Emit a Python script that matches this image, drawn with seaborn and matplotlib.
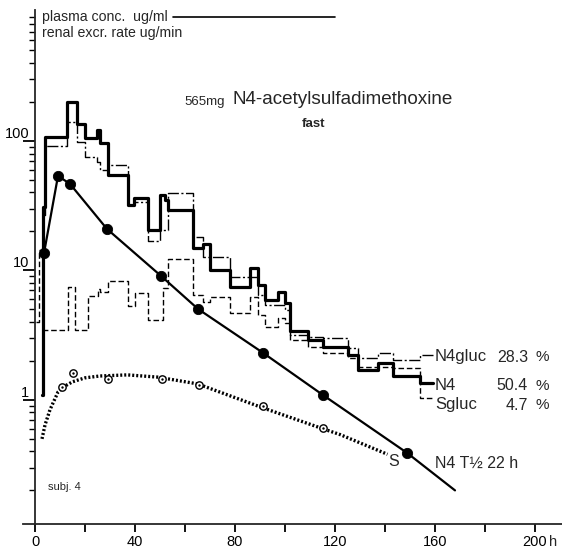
import matplotlib
matplotlib.use("Agg")
import matplotlib.pyplot as plt
import seaborn as sns
import pandas as pd
from matplotlib.lines import Line2D
from matplotlib.ticker import FixedLocator, NullFormatter

# ---------------- data ----------------
# plasma concentration of N4 (ug/ml), filled circles + fitted line
plasma_n4_t = [3.6, 9.2, 14.0, 28.8, 50.4, 65.2, 91.2, 115.2, 148.8]
plasma_n4_v = [13.6, 53.7, 46.6, 20.9, 9.07, 5.04, 2.31, 1.09, 0.39]
plasma_n4_ext_t = [148.8, 168.0]
plasma_n4_ext_v = [0.39, 0.20]

# plasma concentration of S-glucuronide: dotted curve + open circles
plasma_sg_curve_t = [2.8, 4, 6, 9.2, 12, 15, 20, 26, 37, 49, 65, 91, 115, 122, 141]
plasma_sg_curve_v = [0.50, 0.64, 0.84, 1.15, 1.28, 1.38, 1.48, 1.53, 1.56, 1.50, 1.33, 0.87, 0.60, 0.54, 0.38]
plasma_sg_pts_t = [10.8, 15.2, 29.2, 50.8, 65.6, 91.2, 115.2]
plasma_sg_pts_v = [1.26, 1.62, 1.45, 1.45, 1.31, 0.90, 0.61]

# renal excretion rates (ug/min), step series (value holds from t until next t)
n4_t = [2.8, 3.2, 4.0, 12.8, 16.8, 20.0, 24.8, 26.0, 29.0, 37.0, 39.5, 45.0, 50.0, 52.0, 53.0,
        63.0, 67.0, 70.0, 78.0, 86.0, 89.0, 92.0, 97.0, 100.0, 102.0, 109.0, 115.0, 125.0,
        129.0, 137.0, 143.0, 154.0, 159.0]
n4_v = [1.09, 30.9, 107, 200, 135, 105, 122, 96.5, 54.6, 32, 36.3, 20.5, 38.3, 35, 29.3,
        14.9, 16.0, 10.1, 7.46, 10.5, 7.73, 5.92, 6.82, 5.61, 3.41, 2.91, 2.57, 2.23,
        1.70, 1.93, 1.53, 1.35, 1.35]

n4gluc_t = [3.2, 4.0, 12.8, 16.8, 20.0, 24.8, 26.0, 29.0, 37.0, 39.5, 45.0, 50.0, 53.0,
            63.0, 67.0, 78.0, 89.0, 92.0, 100.0, 102.0, 109.0, 115.0, 125.0, 129.0, 137.0,
            143.0, 154.0, 159.0]
n4gluc_v = [26.8, 91.5, 140, 98.3, 75.2, 68.8, 59.7, 65.3, 32, 33.8, 16.9, 20.5, 39.7,
            18.1, 12.7, 8.91, 6.47, 5.42, 4.95, 3.18, 3.06, 3.01, 2.52, 2.11, 2.31,
            2.04, 2.23, 2.23]

sgluc_t = [0.5, 1.5, 3.2, 13.0, 16.0, 21.0, 25.0, 26.0, 29.0, 37.0, 40.0, 45.0, 51.0, 53.0,
           63.0, 67.0, 70.0, 78.0, 86.0, 89.0, 92.0, 97.0, 100.0, 102.0, 109.0, 115.0,
           125.0, 129.0, 137.0, 143.0, 154.0, 159.0]
sgluc_v = [4.0, 14.4, 3.47, 7.46, 3.47, 6.36, 7.2, 6.82, 8.3, 5.32, 6.7, 4.15, 7.33, 12.3,
           6.47, 5.71, 6.24, 4.70, 6.24, 4.53, 3.66, 4.30, 3.93, 2.91, 2.57, 2.31,
           2.11, 1.80, 1.80, 1.77, 1.04, 1.04]

x_ticks = [0, 20, 40, 60, 80, 100, 120, 140, 160, 180, 200]
x_ticklabels = ["0", "", "40", "", "80", "", "120", "", "160", "", "200"]
y_ticks = [1, 10, 100]
y_ticklabels = ["1", "10", "100"]

labels_right = ["N4gluc", "N4", "Sgluc"]
percents = ["28.3", "50.4", "4.7"]

# ---------------- style ----------------
sns.set_theme(style="ticks")
plt.rcParams["font.family"] = ["Liberation Sans", "DejaVu Sans"]
plt.rcParams["axes.linewidth"] = 1.3

W, H = 562, 553
fig = plt.figure(figsize=(W / 100, H / 100), dpi=100)
ax_left, ax_right, ax_top, ax_bot = 22.5, 562, 10, 524
ax = fig.add_axes([ax_left / W, 1 - ax_bot / H, (ax_right - ax_left) / W, (ax_bot - ax_top) / H])
ax.set_yscale("log")


def fx(px):
    return px / W


def fy(py):
    return 1 - py / H


# renal excretion step lines
df_n4 = pd.DataFrame({"t": n4_t, "v": n4_v})
df_ng = pd.DataFrame({"t": n4gluc_t, "v": n4gluc_v})
df_sg = pd.DataFrame({"t": sgluc_t, "v": sgluc_v})

sns.lineplot(data=df_sg, x="t", y="v", ax=ax, color="black", lw=1.0,
             drawstyle="steps-post", estimator=None, sort=False)
ax.lines[-1].set_dashes([4, 2])
sns.lineplot(data=df_ng, x="t", y="v", ax=ax, color="black", lw=1.0,
             drawstyle="steps-post", estimator=None, sort=False)
ax.lines[-1].set_dashes([8, 1.8, 1.5, 1.8])
sns.lineplot(data=df_n4, x="t", y="v", ax=ax, color="black", lw=2.3,
             drawstyle="steps-post", estimator=None, sort=False)

# plasma N4
df_p = pd.DataFrame({"t": plasma_n4_t, "v": plasma_n4_v})
sns.lineplot(data=df_p, x="t", y="v", ax=ax, color="black", lw=1.6, estimator=None, sort=False)
sns.lineplot(x=plasma_n4_ext_t, y=plasma_n4_ext_v, ax=ax, color="black", lw=1.6,
             estimator=None, sort=False)
sns.scatterplot(data=df_p, x="t", y="v", ax=ax, color="black", s=55, edgecolor="black", zorder=5)

# plasma S-gluc
df_sc = pd.DataFrame({"t": plasma_sg_curve_t, "v": plasma_sg_curve_v})
sns.lineplot(data=df_sc, x="t", y="v", ax=ax, color="black", lw=2.4, estimator=None, sort=False)
ax.lines[-1].set_dashes([0.6, 0.6])
df_sp = pd.DataFrame({"t": plasma_sg_pts_t, "v": plasma_sg_pts_v})
sns.scatterplot(data=df_sp, x="t", y="v", ax=ax, s=28, facecolor="white",
                edgecolor="black", linewidth=1.0, zorder=6)
sns.scatterplot(data=df_sp, x="t", y="v", ax=ax, s=3, color="black", linewidth=0, zorder=7)

# ---------------- axes ----------------
ax.set_xlim(-5, 210.8)
ax.set_ylim(0.11, 1027)
ax.spines["top"].set_visible(False)
ax.spines["right"].set_visible(False)
ax.spines["left"].set_position(("data", 0))
ax.set_xlabel("")
ax.set_ylabel("")
ax.set_xticks(x_ticks)
ax.set_xticklabels(x_ticklabels, fontsize=10.5)
ax.tick_params(axis="x", direction="out", length=6, width=1.3, pad=2, colors="black")
ax.yaxis.set_major_locator(FixedLocator(y_ticks))
ax.set_yticklabels(y_ticklabels, fontsize=10.5)
minor = []
for dec in [0.1, 1, 10, 100]:
    for m in range(2, 10):
        if 0.11 <= dec * m <= 1027:
            minor.append(dec * m)
ax.yaxis.set_minor_locator(FixedLocator(minor))
ax.yaxis.set_minor_formatter(NullFormatter())
ax.tick_params(axis="y", which="major", direction="out", length=9, width=1.3, pad=-5, colors="black")
ax.tick_params(axis="y", which="minor", direction="out", length=4.5, width=1.0, colors="black")
for lab in ax.get_yticklabels():
    lab.set_verticalalignment("bottom")
ax.grid(False)

# ---------------- annotations ----------------
fig.text(fx(549), fy(542), "h", fontsize=10.5, ha="left", va="center")
fig.text(fx(42), fy(17), "plasma conc.  ug/ml", fontsize=10.2, ha="left", va="center")
fig.add_artist(Line2D([fx(173), fx(335)], [fy(17), fy(17)], color="black", lw=1.2))
fig.text(fx(42), fy(33), "renal excr. rate ug/min", fontsize=10.2, ha="left", va="center")

fig.text(fx(184), fy(102), "565mg", fontsize=9.5, ha="left", va="center")
fig.text(fx(233), fy(100), "N4-acetylsulfadimethoxine", fontsize=13.6, ha="left", va="center")
fig.text(fx(302), fy(124), "fast", fontsize=9.5, ha="left", va="center", fontweight="bold")

for lab, pct, py in zip(labels_right, percents, [357, 386, 405]):
    fig.text(fx(435), fy(py), lab, fontsize=12, ha="left", va="center")
    fig.text(fx(528), fy(py), pct, fontsize=11.5, ha="right", va="center")
    fig.text(fx(536), fy(py), "%", fontsize=11, ha="left", va="center")

fig.text(fx(435), fy(463), "N4 T½ 22 h", fontsize=11.5, ha="left", va="center")
fig.text(fx(388), fy(462), "S", fontsize=11.5, ha="left", va="center")
fig.text(fx(48), fy(487), "subj. 4", fontsize=8, ha="left", va="center")

fig.savefig("out.png", dpi=100)
